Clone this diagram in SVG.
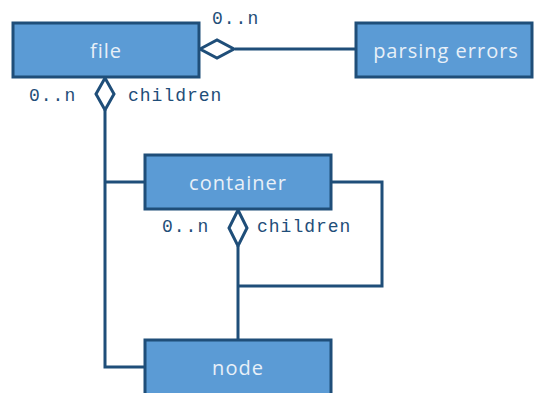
<svg xmlns="http://www.w3.org/2000/svg" width="534" height="393" viewBox="0 0 534 393">
  <style>
    .box { fill: #5b9bd5; stroke: #1f4e79; stroke-width: 3; }
    .name { font-family: "Open Sans", "Noto Sans", sans-serif; font-size: 20px; fill: #e8f0f8; text-anchor: middle; dominant-baseline: central; letter-spacing: 1px; }
    .line { fill: none; stroke: #1f4e79; stroke-width: 3; }
    .diamond { fill: #ffffff; stroke: #1f4e79; stroke-width: 3; stroke-linejoin: miter; }
    .lbl { font-family: "Liberation Mono", "DejaVu Sans Mono", monospace; font-size: 18px; fill: #1f4e79; dominant-baseline: central; letter-spacing: 1px; }
  </style>

  <g id="connectors">
    <!-- file to parsing errors -->
    <line class="line" x1="235" y1="49" x2="355" y2="49"/>
    <!-- file children: down to container and node -->
    <polyline class="line" points="105,110 105,367 145,367"/>
    <line class="line" x1="105" y1="182" x2="145" y2="182"/>
    <!-- container children -->
    <line class="line" x1="238" y1="246" x2="238" y2="340"/>
    <polyline class="line" points="331,182 382,182 382,286 238,286"/>
    <!-- aggregation diamonds -->
    <polygon class="diamond" points="200,49 217,40 234,49 217,58"/>
    <polygon class="diamond" points="105,78 114,94 105,110 96,94"/>
    <polygon class="diamond" points="238,210 247,228 238,246 229,228"/>
    <!-- multiplicity and role labels -->
    <text class="lbl" x="212" y="19">0..n</text>
    <text class="lbl" x="29" y="96">0..n</text>
    <text class="lbl" x="128" y="96">children</text>
    <text class="lbl" x="162" y="227">0..n</text>
    <text class="lbl" x="257" y="227">children</text>
  </g>

  <g id="file">
    <rect class="box" x="13" y="23" width="186" height="54"/>
    <text class="name" x="106" y="50">file</text>
  </g>

  <g id="parsing-errors">
    <rect class="box" x="356" y="23" width="176" height="54"/>
    <text class="name" x="446" y="50">parsing errors</text>
  </g>

  <g id="container">
    <rect class="box" x="145" y="155" width="186" height="54"/>
    <text class="name" x="238" y="182">container</text>
  </g>

  <g id="node">
    <rect class="box" x="145" y="340" width="186" height="56"/>
    <text class="name" x="238" y="367">node</text>
  </g>
</svg>
